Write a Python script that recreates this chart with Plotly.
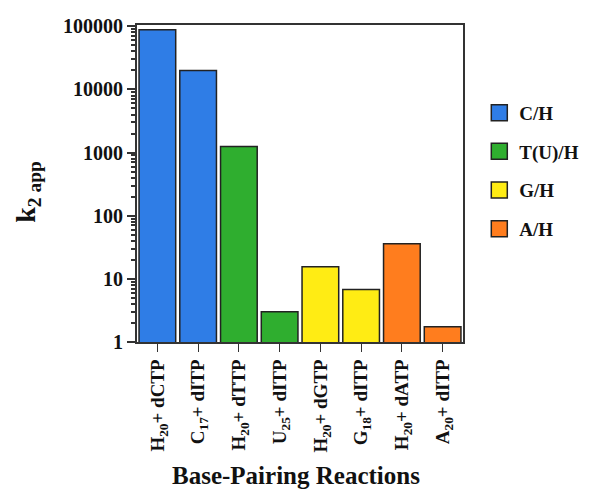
import plotly.graph_objects as go

categories = ["H<sub>20</sub>+ dCTP", "C<sub>17</sub>+ dITP", "H<sub>20</sub>+ dTTP", "U<sub>25</sub>+ dITP",
              "H<sub>20</sub>+ dGTP", "G<sub>18</sub>+ dITP", "H<sub>20</sub>+ dATP", "A<sub>20</sub>+ dITP"]
values = [88000, 20000, 1250, 3.0, 15.5, 6.8, 36, 1.75]
groups = ["C/H", "C/H", "T(U)/H", "T(U)/H", "G/H", "G/H", "A/H", "A/H"]
group_names = ["C/H", "T(U)/H", "G/H", "A/H"]
group_colors = {"C/H": "#2f7de6", "T(U)/H": "#2fae2f", "G/H": "#ffec14", "A/H": "#ff7d1e"}
major_ticks = [1, 10, 100, 1000, 10000, 100000]
major_labels = ["1", "10", "100", "1000", "10000", "100000"]
minor_ticks = [m * d for d in [1, 10, 100, 1000, 10000] for m in range(2, 10)]

font_family = "Liberation Serif, Times New Roman, serif"

fig = go.Figure()
for g in group_names:
    xs = [c for c, gg in zip(categories, groups) if gg == g]
    ys = [v for v, gg in zip(values, groups) if gg == g]
    fig.add_trace(go.Bar(x=xs, y=ys, marker=dict(color=group_colors[g], line=dict(color="#222222", width=1.5)),
                         showlegend=False))
for g in group_names:
    fig.add_trace(go.Scatter(x=[None], y=[None], mode="markers", name=g, legendgroup=g,
                             marker=dict(symbol="square", size=16, color=group_colors[g],
                                         line=dict(color="#222222", width=1.5))))

fig.update_layout(
    width=600, height=500,
    margin=dict(l=129, r=145, t=7, b=166),
    paper_bgcolor="white", plot_bgcolor="white",
    barmode="overlay", bargap=0.1,
    font=dict(family=font_family, color="#111111"),
    legend=dict(x=1.05, y=0.783, xanchor="left", yanchor="top", tracegroupgap=11,
                font=dict(size=19, family=font_family, weight="bold"), bgcolor="rgba(0,0,0,0)"),
)
fig.update_xaxes(categoryorder="array", categoryarray=categories,
                 showline=True, mirror=True, linecolor="#333333", linewidth=1.5,
                 ticks="outside", ticklen=8, tickcolor="#333333", tickangle=-90,
                 tickfont=dict(size=19, family=font_family, weight="bold", color="#111111"))
fig.update_yaxes(type="log", range=[0, 5.02], tickvals=major_ticks, ticktext=major_labels,
                 ticklabeloverflow="allow",
                 showline=True, mirror=True, linecolor="#333333", linewidth=2,
                 ticks="outside", ticklen=8, tickwidth=1.5, tickcolor="#333333", showgrid=False,
                 tickfont=dict(size=20, family=font_family, weight="bold", color="#111111"),
                 minor=dict(tickvals=minor_ticks, ticks="outside", ticklen=4, tickcolor="#333333", showgrid=False))

fig.add_annotation(text="k<sub>2 app</sub>", xref="paper", yref="paper", x=-0.334, y=0.474,
                   textangle=-90, showarrow=False, xanchor="center", yanchor="middle",
                   font=dict(size=28, family=font_family, weight="bold", color="#111111"))
fig.add_annotation(text="Base-Pairing Reactions", xref="paper", yref="paper", x=0.488, y=-0.422,
                   showarrow=False, xanchor="center", yanchor="middle",
                   font=dict(size=25, family=font_family, weight="bold", color="#111111"))

fig.write_html("out.html")
